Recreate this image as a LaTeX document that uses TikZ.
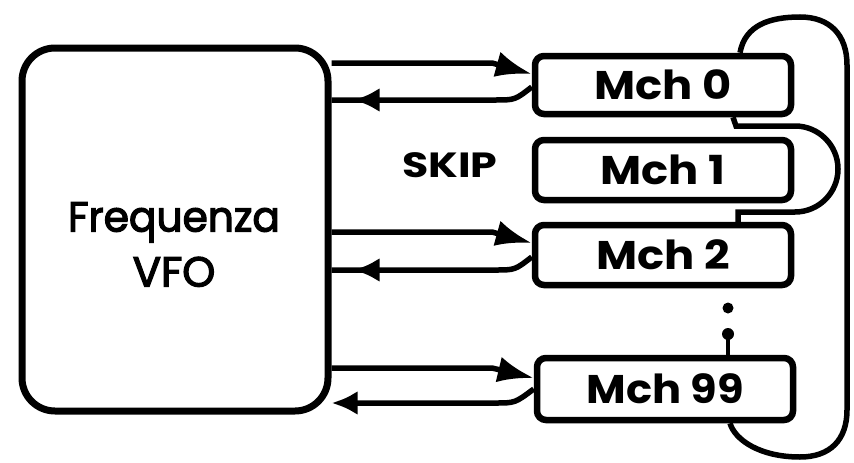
\documentclass[tikz,border=0pt]{standalone}
\usepackage{graphicx}
\usepackage{fontspec}
\setmainfont{Poppins}
\newfontfamily\vfofont{Poppins}[FakeBold=3]
\usetikzlibrary{arrows.meta,decorations.markings,calc}
\newcommand{\widetext}[2]{\scalebox{#1}[1]{#2}}
\begin{document}
\begin{tikzpicture}[x=1pt,y=-1pt,
  chbox/.style={draw, line width=6.5pt, rounded corners=9pt, minimum width=256pt, inner sep=0pt, font=\fontsize{40}{40}\selectfont\bfseries},
  conn/.style={line width=5.5pt},
  tipR/.style={-{Latex[length=36pt,width=26pt]}},
  tipL/.style={-{Latex[length=26pt,width=24pt]}},
  midtip/.style={postaction={decorate}, decoration={markings, mark=at position -22pt with {\arrow{Latex[length=26pt,width=24pt]}}}},
  loopline/.style={line width=5.5pt}
]
\useasboundingbox (0,0) rectangle (854,463);
\fill[white] (0,0) rectangle (854,463);

\node[draw, line width=7pt, rounded corners=33pt, minimum width=306pt, minimum height=363pt, inner sep=0pt] (vfo) at (175,229.5) {};
\node[align=center, font=\fontsize{42}{55}\selectfont\vfofont] (vfotxt) at (174,244.5) {\widetext{0.97}{Frequenza}\\VFO};

\node[chbox, minimum height=58pt] (m0) at (663,85) {\widetext{1.12}{Mch 0}};
\node[chbox, minimum height=60pt] (m1) at (663,170) {\widetext{1.12}{Mch 1}};
\node[chbox, minimum height=60pt] (m2) at (663,255) {\widetext{1.12}{Mch 2}};
\node[chbox, minimum height=62pt] (m99) at (665,389) {\widetext{1.08}{Mch 99}};

\node[font=\fontsize{35}{35}\selectfont\bfseries] (skip) at (450,165) {\widetext{1.22}{SKIP}};

% Mch 0
\draw[conn,tipR] (vfo.east |- 0,63) -- (492,63) -- ($(m0.west)+(0,-11)$);
\draw[conn,midtip] ($(m0.west)+(0,2)$) .. controls (515,100) .. (495,100) -- (vfo.east |- 0,100);
% Mch 2
\draw[conn,tipR] (vfo.east |- 0,232) -- (492,232) -- ($(m2.west)+(0,-12)$);
\draw[conn,midtip] ($(m2.west)+(0,2)$) .. controls (515,270) .. (495,270) -- (vfo.east |- 0,270);
% Mch 99
\draw[conn,tipR] (vfo.east |- 0,368) -- (492,368) -- ($(m99.west)+(0,-11)$);
\draw[conn,tipL] ($(m99.west)+(0,0)$) .. controls (515,403) .. (495,403) -- (vfo.east |- 0,403);

% big loop
\draw[loopline] (m0.north -| 740,0) .. controls (745,25) and (770,17) .. (800,17)
  .. controls (830,17) and (847,35) .. (847,65) -- (847,410)
  .. controls (847,440) and (830,457) .. (800,457)
  .. controls (760,457) and (735,440) .. (m99.south -| 730,0);

% small loop (skip)
\draw[loopline] (m0.south -| 733,0) -- (736,126) -- (795,126)
  arc[start angle=90, end angle=-90, radius=43pt] -- (738,212) -- (m2.north -| 738,0);

% dots
\fill (728,308) circle (5.5pt);
\fill (728,334) circle (6pt);
\draw[line width=4pt] (728,337) -- (m99.north -| 728,0);
\end{tikzpicture}
\end{document}
